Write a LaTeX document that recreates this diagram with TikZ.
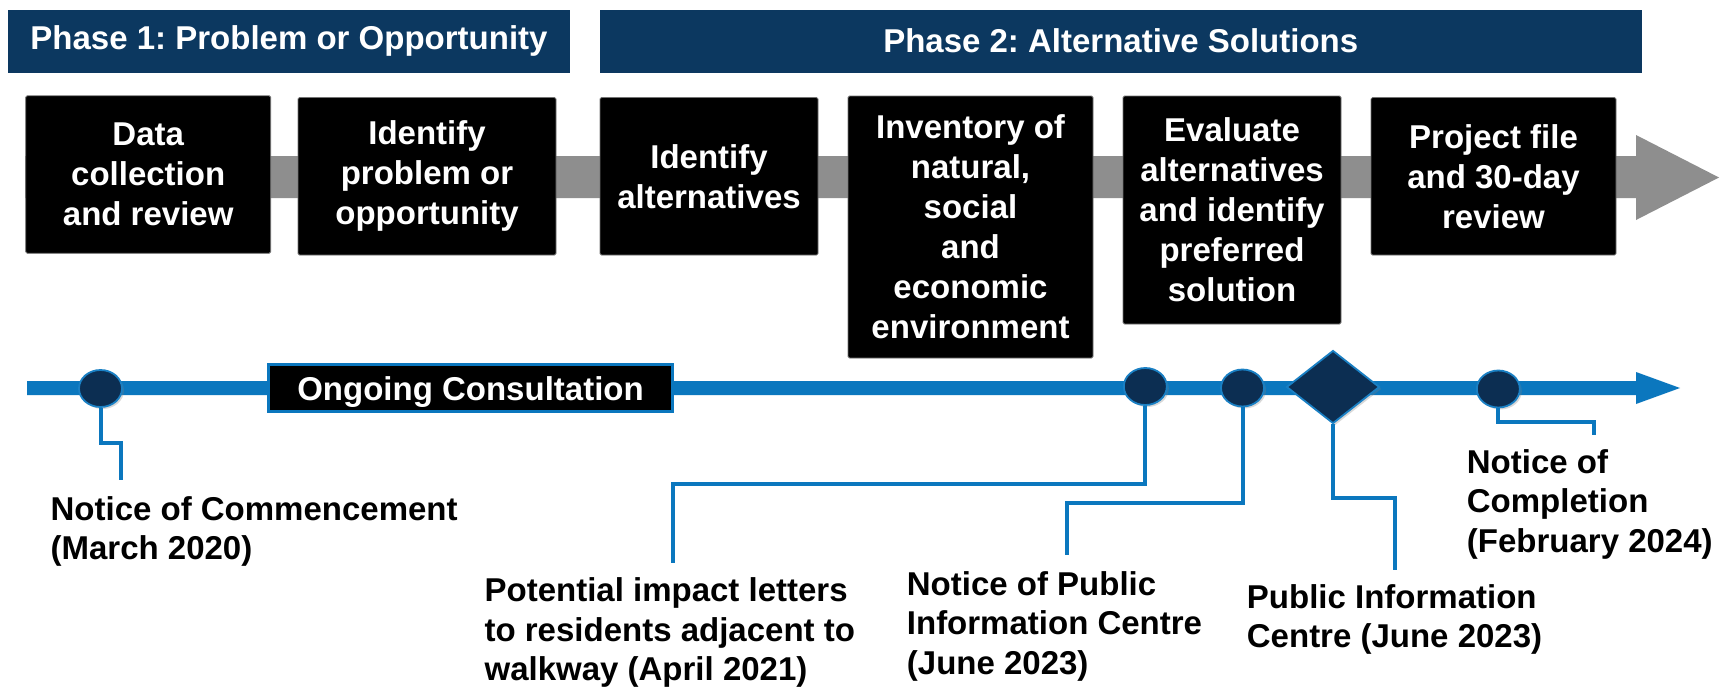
\documentclass[tikz,border=0pt]{standalone}
\usepackage{fontspec}
\setmainfont{Liberation Sans}
\frenchspacing
\usetikzlibrary{shapes.geometric,shadows}
\definecolor{navy}{RGB}{12,56,96}
\definecolor{tlblue}{RGB}{11,119,190}
\definecolor{dotfill}{RGB}{12,46,82}
\definecolor{dotedge}{RGB}{26,128,196}
\definecolor{bandgray}{RGB}{142,142,142}

\begin{document}
\begin{tikzpicture}[x=1pt,y=-1pt,
  txt/.style={font=\fontsize{33}{40}\selectfont\bfseries},
  phasebar/.style={txt, fill=navy, text=white, inner sep=0pt, minimum height=63pt},
  stepbox/.style={txt, fill=black, draw=black!55, line width=0.8pt, rounded corners=1.5pt,
    text=white, align=center, inner sep=0pt},
  milestone/.style={ellipse, fill=dotfill, draw=dotedge, line width=1.8pt,
    minimum width=43pt, minimum height=37pt, inner sep=0pt,
    drop shadow={shadow xshift=2pt, shadow yshift=-2pt, opacity=0.3}},
  eventmark/.style={diamond, fill=dotfill, draw=dotedge, line width=1.8pt,
    minimum width=93pt, minimum height=73pt, inner sep=0pt,
    drop shadow={shadow xshift=2pt, shadow yshift=-2pt, opacity=0.3}},
  leader/.style={draw=tlblue, line width=4pt},
  note/.style={text=black, align=left, anchor=north west, inner sep=0pt,
    font=\fontsize{33}{39.5}\selectfont\bfseries}
]
% canvas
\path[fill=white] (0,0) rectangle (1728,688);
\useasboundingbox (0,0) rectangle (1728,688);

% phase headers
\node[phasebar, minimum width=562pt] (ph1) at (289,41) {Phase 1: Problem or Opportunity};
\node[phasebar, minimum width=1041.5pt] (ph2) at (1120.75,41) {Phase 2: Alternative Solutions};

% grey process arrow behind the steps
\fill[bandgray] (25,156) -- (1636,156) -- (1636,135) -- (1719,177.5) -- (1636,220)
  -- (1636,198) -- (25,198) -- cycle;

% process steps
\node[stepbox, minimum width=245pt, minimum height=157.5pt] (s1) at (148.2,174.5)
  {Data\\collection\\and review};
\node[stepbox, minimum width=258pt, minimum height=157.5pt] (s2) at (427,176.3)
  {Identify\\problem or\\opportunity};
\node[stepbox, minimum width=218pt, minimum height=157.5pt] (s3) at (709,176.3)
  {Identify\\alternatives};
\node[stepbox, minimum width=245pt, minimum height=262pt] (s4) at (970.5,227)
  {Inventory of\\natural,\\social\\and\\economic\\environment};
\node[stepbox, minimum width=218pt, minimum height=228pt] (s5) at (1232,210)
  {Evaluate\\alternatives\\and identify\\preferred\\solution};
\node[stepbox, minimum width=245pt, minimum height=157.5pt] (s6) at (1493.5,176.3)
  {Project file\\and 30-day\\review};

% consultation timeline
\fill[tlblue] (27,381) -- (1636,381) -- (1636,372) -- (1680,388) -- (1636,404)
  -- (1636,395) -- (27,395) -- cycle;
\node[txt, fill=black, draw=tlblue, line width=3pt, text=white, minimum width=404pt,
  minimum height=47pt, inner sep=0pt, text height=24pt, text depth=0pt] (ongoing)
  at (470.5,388) {Ongoing Consultation};

% milestones
\node[milestone] (c1) at (100.5,388.5) {};
\node[milestone] (c2) at (1145.3,386.5) {};
\node[milestone] (c3) at (1242.5,388) {};
\node[eventmark] (pic) at (1333,387) {};
\node[milestone] (c4) at (1498.3,389) {};

% leader bends and ends
\coordinate (k1) at (121,443);   \coordinate (e1) at (121,480);
\coordinate (k2) at (673,484);   \coordinate (e2) at (673,563);
\coordinate (k3) at (1067,503);  \coordinate (e3) at (1067,555);
\coordinate (k4) at (1395,498);  \coordinate (e4) at (1395,570);
\coordinate (k5) at (1594,422);  \coordinate (e5) at (1594,435);

\draw[leader] (c1.south) |- (k1) -- (e1);
\draw[leader] (c2.south) |- (k2) -- (e2);
\draw[leader] (c3.south) |- (k3) -- (e3);
\draw[leader] (pic.south) |- (k4) -- (e4);
\draw[leader] (c4.south) |- (k5) -- (e5);

% milestone captions
\node[note] (n1) at (50.4,496) {Notice of Commencement\\(March 2020)};
\node[note] (n2) at (484.4,577.7) {Potential impact letters\\to residents adjacent to\\walkway (April 2021)};
\node[note] (n3) at (906.7,571) {Notice of Public\\Information Centre\\(June 2023)};
\node[note] (n4) at (1246.7,584.3) {Public Information\\Centre (June 2023)};
\node[note] (n5) at (1466.7,449.3) {Notice of\\Completion\\(February 2024)};
\end{tikzpicture}
\end{document}
